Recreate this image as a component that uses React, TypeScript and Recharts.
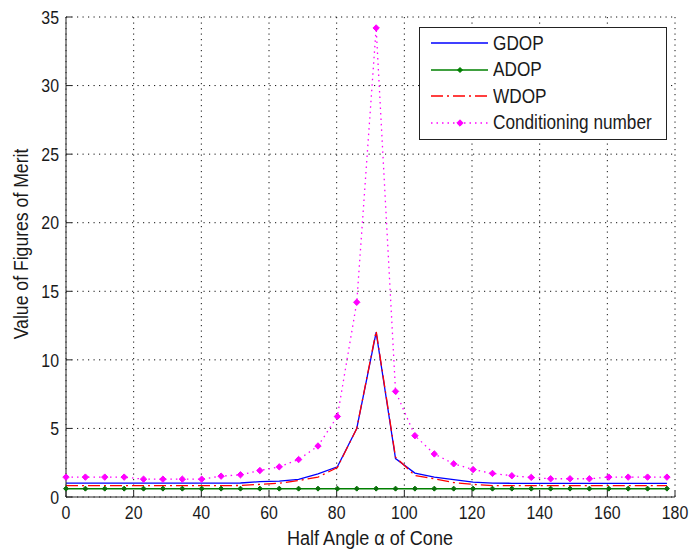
import { LineChart, Line, XAxis, YAxis, CartesianGrid, Legend, Label } from 'recharts';

// sample angles (deg), 0.1 rad apart
const angles = [
  0, 5.73, 11.46, 17.19, 22.92, 28.65, 34.38, 40.11, 45.84, 51.57, 57.3, 63.03, 68.75, 74.48, 80.21, 85.94,
  91.67, 97.4, 103.13, 108.86, 114.59, 120.32, 126.05, 131.78, 137.51, 143.24, 148.97, 154.7, 160.43, 166.16, 171.89, 177.62,
];
const gdop = [
  1.01, 1.01, 1.01, 1.01, 1.01, 1.01, 1.01, 1.01, 1.01, 1.02, 1.12, 1.16, 1.28, 1.68, 2.2, 5.0,
  12.0, 2.8, 1.74, 1.45, 1.26, 1.09, 1.01, 1.0, 1.0, 1.0, 1.0, 1.0, 1.0, 1.0, 1.0, 1.0,
];
const adop = [
  0.61, 0.61, 0.61, 0.61, 0.61, 0.61, 0.61, 0.61, 0.61, 0.61, 0.61, 0.61, 0.61, 0.61, 0.61, 0.61,
  0.61, 0.61, 0.61, 0.61, 0.61, 0.61, 0.61, 0.61, 0.61, 0.61, 0.61, 0.61, 0.61, 0.61, 0.61, 0.61,
];
const wdop = [
  0.83, 0.83, 0.83, 0.83, 0.83, 0.83, 0.83, 0.83, 0.83, 0.84, 0.92, 1.0, 1.2, 1.45, 2.15, 5.0,
  12.1, 2.9, 1.57, 1.33, 1.05, 0.92, 0.83, 0.83, 0.83, 0.83, 0.83, 0.83, 0.83, 0.83, 0.83, 0.83,
];
const condNum = [
  1.45, 1.45, 1.45, 1.45, 1.3, 1.3, 1.3, 1.3, 1.52, 1.62, 1.93, 2.2, 2.73, 3.72, 5.87, 14.2,
  34.2, 7.7, 4.47, 3.14, 2.42, 2.0, 1.72, 1.55, 1.43, 1.33, 1.33, 1.33, 1.45, 1.45, 1.45, 1.45,
];

const xTicks = [0, 20, 40, 60, 80, 100, 120, 140, 160, 180];
const yTicks = [0, 5, 10, 15, 20, 25, 30, 35];

const data = angles.map((a, i) => ({
  angle: a,
  gdop: gdop[i],
  adop: adop[i],
  wdop: wdop[i],
  cond: condNum[i],
}));

const FONT = '"Liberation Sans", Arial, sans-serif';
const INK = '#1a1a1a';
const SQUEEZE = 'scale(0.86,1)';

const diamond = (color: string, r: number) => (p: any) => (
  <path
    key={`d-${color}-${p.index}`}
    d={`M${p.cx},${p.cy - r}L${p.cx + r},${p.cy}L${p.cx},${p.cy + r}L${p.cx - r},${p.cy}Z`}
    fill={color}
    stroke={color}
    strokeWidth={1}
  />
);

const XTick = ({ x, y, payload }: any) => (
  <g transform={`translate(${x},${y})`}>
    <text transform={SQUEEZE} textAnchor="middle" dy="0.36em" fontSize={18.5} fontFamily={FONT} fill={INK}>
      {payload.value}
    </text>
  </g>
);

const YTick = ({ x, y, payload }: any) => (
  <g transform={`translate(${x},${y})`}>
    <text transform={SQUEEZE} textAnchor="end" dy="0.36em" fontSize={18.5} fontFamily={FONT} fill={INK}>
      {payload.value}
    </text>
  </g>
);

const series = [
  { name: 'GDOP', color: '#0000ff', dash: undefined, marker: 0 },
  { name: 'ADOP', color: '#008000', dash: undefined, marker: 2.5 },
  { name: 'WDOP', color: '#ff0000', dash: '12 4 2 4', marker: 0 },
  { name: 'Conditioning number', color: '#ff00ff', dash: '1.5 4', marker: 3.2 },
];

const LegendBox = () => (
  <div
    style={{
      width: 246,
      height: 109,
      border: '1px solid #222',
      background: '#fff',
      boxSizing: 'content-box',
      paddingTop: 2,
    }}
  >
    {series.map((s) => (
      <div key={s.name} style={{ display: 'flex', alignItems: 'center', height: 26.5 }}>
        <svg width={72} height={20} style={{ flex: 'none' }}>
          <line x1={11} x2={68} y1={10} y2={10} stroke={s.color} strokeWidth={1.4} strokeDasharray={s.dash} />
          {s.marker > 0 && (
            <path
              d={`M40,${10 - s.marker}L${40 + s.marker},10L40,${10 + s.marker}L${40 - s.marker},10Z`}
              fill={s.color}
              stroke={s.color}
            />
          )}
        </svg>
        <span
          style={{
            fontFamily: FONT,
            fontSize: 20,
            color: INK,
            transform: 'scaleX(0.86)',
            transformOrigin: 'left center',
            whiteSpace: 'nowrap',
            marginLeft: 1,
          }}
        >
          {s.name}
        </span>
      </div>
    ))}
  </div>
);

export default function App() {
  return (
    <div style={{ position: 'absolute', left: 0, top: 0, width: 691, height: 552, background: '#fff' }}>
      <LineChart width={691} height={552} data={data} margin={{ top: 17, right: 16, bottom: 0, left: 0 }}>
        <CartesianGrid
          xAxisId="b"
          yAxisId="l"
          stroke="#111"
          strokeDasharray="1.2 4.3"
          horizontalValues={yTicks}
          verticalValues={xTicks}
        />
        <XAxis
          xAxisId="b"
          dataKey="angle"
          type="number"
          domain={[0, 180]}
          ticks={xTicks}
          height={55}
          tickSize={-6}
          tickMargin={21}
          tick={<XTick />}
          axisLine={{ stroke: '#262626' }}
          tickLine={{ stroke: '#262626' }}
          interval={0}
        >
          <Label
            content={() => (
              <g transform="translate(370,537)">
                <text transform={SQUEEZE} textAnchor="middle" dy="0.36em" fontSize={21} fontFamily={FONT} fill={INK}>
                  Half Angle α of Cone
                </text>
              </g>
            )}
          />
        </XAxis>
        <XAxis
          xAxisId="t"
          orientation="top"
          dataKey="angle"
          type="number"
          domain={[0, 180]}
          ticks={xTicks}
          height={0}
          tickSize={-6}
          tick={false}
          axisLine={{ stroke: '#262626' }}
          tickLine={{ stroke: '#262626' }}
          interval={0}
        />
        <YAxis
          yAxisId="l"
          type="number"
          domain={[0, 35]}
          ticks={yTicks}
          width={66}
          tickSize={-6}
          tickMargin={13}
          tick={<YTick />}
          axisLine={{ stroke: '#262626' }}
          tickLine={{ stroke: '#262626' }}
          interval={0}
        >
          <Label
            content={() => (
              <g transform="translate(21,244) rotate(-90)">
                <text transform={SQUEEZE} textAnchor="middle" dy="0.36em" fontSize={20.5} fontFamily={FONT} fill={INK}>
                  Value of Figures of Merit
                </text>
              </g>
            )}
          />
        </YAxis>
        <YAxis
          yAxisId="r"
          orientation="right"
          type="number"
          domain={[0, 35]}
          ticks={yTicks}
          width={0}
          tickSize={-6}
          tick={false}
          axisLine={{ stroke: '#262626' }}
          tickLine={{ stroke: '#262626' }}
          interval={0}
        />
        <Legend
          layout="vertical"
          align="center"
          verticalAlign="middle"
          content={<LegendBox />}
          wrapperStyle={{ left: 419, top: 27, width: 248, height: 112, right: 'auto', bottom: 'auto' }}
        />
        <Line
          xAxisId="b"
          yAxisId="l"
          type="linear"
          dataKey="gdop"
          name="GDOP"
          stroke="#0000ff"
          strokeWidth={1.3}
          dot={false}
          isAnimationActive={false}
        />
        <Line
          xAxisId="b"
          yAxisId="l"
          type="linear"
          dataKey="adop"
          name="ADOP"
          stroke="#008000"
          strokeWidth={1.5}
          dot={diamond('#0a700a', 2.5)}
          isAnimationActive={false}
        />
        <Line
          xAxisId="b"
          yAxisId="l"
          type="linear"
          dataKey="wdop"
          name="WDOP"
          stroke="#ff0000"
          strokeWidth={1.3}
          strokeDasharray="12 4 2 4"
          dot={false}
          isAnimationActive={false}
        />
        <Line
          xAxisId="b"
          yAxisId="l"
          type="linear"
          dataKey="cond"
          name="Conditioning number"
          stroke="#ff00ff"
          strokeWidth={1.3}
          strokeDasharray="1.5 4"
          dot={diamond('#ff00ff', 3.2)}
          isAnimationActive={false}
        />
      </LineChart>
    </div>
  );
}
